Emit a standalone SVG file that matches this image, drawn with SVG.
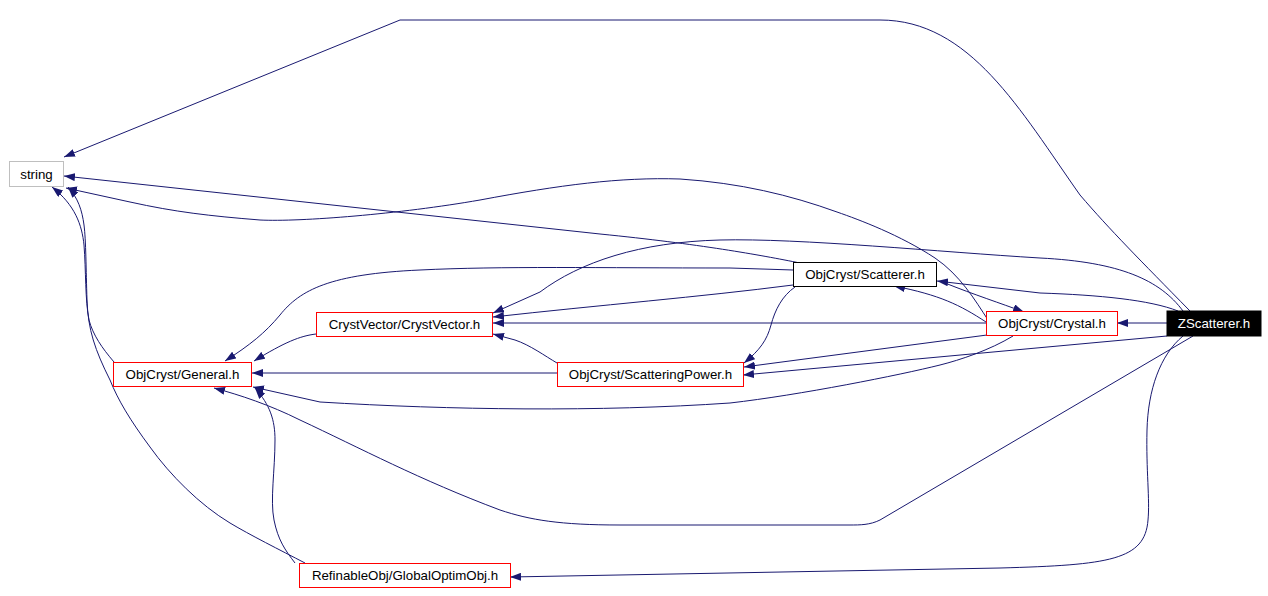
<svg xmlns="http://www.w3.org/2000/svg" width="1268" height="596" viewBox="0 0 1268 596">
<style>
.e{fill:none;stroke:#191970;stroke-width:1;marker-end:url(#a)}
.n rect{fill:#fff;stroke:#ff0000;stroke-width:1}
.n text{font-family:"Liberation Sans",Arial,sans-serif;font-size:13.3px;text-anchor:middle;fill:#000}
</style>
<defs>
<marker id="a" markerWidth="11" markerHeight="8" refX="11" refY="4" orient="auto" markerUnits="userSpaceOnUse">
<path d="M0,0 L11,4 L0,8 z" fill="#191970"/>
</marker>
</defs>
<rect width="1268" height="596" fill="#fff"/>
<g id="edges">
<path class="e" d="M1190,311 C1140,260 1110,230 1080,195 C1020,110 970,20 880,20 L400,20 L64,157"/>
<path class="e" d="M1167,323 L1117,323"/>
<path class="e" d="M1178,311 C1150,300 1100,295 1040,293 L937,281"/>
<path class="e" d="M1183,311 C1160,280 1120,262 1040,258 C940,252 800,238 720,240 C640,242 580,262 540,292 L493,313"/>
<path class="e" d="M1167,336 L743,375"/>
<path class="e" d="M1193,336 L880,520 C870,525 860,525 850,525 L620,525 C560,525 530,520 500,510 C420,480 360,448 300,420 C270,405 240,395 214,388"/>
<path class="e" d="M1183,336 C1160,355 1148,390 1147,430 C1146,470 1150,500 1148,520 C1145,560 1110,565 1000,568 L510,577"/>
<path class="e" d="M988,320 C975,300 960,275 935,258 C900,235 860,220 837,212 C790,195 740,183 680,179 C620,177 560,185 480,200 C400,214 300,222 260,220 C210,216 175,212 130,202 L66,188"/>
<path class="e" d="M800,263 C760,255 700,244 600,234 L64,176"/>
<path class="e" d="M793,270 L730,268 C600,268 500,266 420,270 C330,274 300,290 280,315 C265,333 250,345 225,361"/>
<path class="e" d="M793,285 C700,297 600,305 493,317"/>
<path class="e" d="M795,287 C782,296 775,310 771,325 C767,340 760,350 744,363"/>
<path class="e" d="M945,283 C975,295 1000,303 1024,312"/>
<path class="e" d="M986,322 C960,305 940,295 894,286"/>
<path class="e" d="M986,323 L493,323"/>
<path class="e" d="M987,335 L744,367"/>
<path class="e" d="M1013,336 C990,350 960,360 940,365 C900,375 800,395 730,403 C600,412 450,410 320,402 L253,387"/>
<path class="e" d="M557,373 L252,373"/>
<path class="e" d="M557,363 C545,356 530,345 515,340 L493,334"/>
<path class="e" d="M316,334 C300,336 285,342 254,361"/>
<path class="e" d="M114,362 C102,348 93,335 89,320 C85,300 86,270 84,245 C82,225 75,205 52,187"/>
<path class="e" d="M305,563 C280,550 250,535 230,523 C200,505 170,475 150,447 C130,420 118,400 110,380 C95,350 88,330 87,300 C86,270 86,240 84,225 C82,210 78,198 68,187"/>
<path class="e" d="M295,563 C285,550 278,540 274,520 C270,500 275,470 275,440 C275,420 270,405 255,388"/>
</g>
<g id="string" class="n"><rect x="9.5" y="161.5" width="54" height="25" style="stroke:#bfbfbf"/><text x="36.5" y="178.5">string</text></g>
<g id="general" class="n"><rect x="113.5" y="362.5" width="138" height="24"/><text x="182.5" y="379">ObjCryst/General.h</text></g>
<g id="crystvector" class="n"><rect x="316.5" y="312.5" width="176" height="24"/><text x="404.5" y="329">CrystVector/CrystVector.h</text></g>
<g id="scatteringpower" class="n"><rect x="557.5" y="362.5" width="186" height="24"/><text x="650.5" y="379">ObjCryst/ScatteringPower.h</text></g>
<g id="scatterer" class="n"><rect x="793.5" y="262.5" width="143" height="24" style="stroke:#000"/><text x="865" y="279">ObjCryst/Scatterer.h</text></g>
<g id="crystal" class="n"><rect x="986.5" y="311.5" width="131" height="24"/><text x="1052" y="328">ObjCryst/Crystal.h</text></g>
<g id="zscatterer" class="n"><rect x="1167" y="311" width="94" height="25" style="fill:#000;stroke:#000"/><text x="1214" y="328" style="fill:#fff">ZScatterer.h</text></g>
<g id="globaloptimobj" class="n"><rect x="299.5" y="563.5" width="211" height="24"/><text x="405" y="580">RefinableObj/GlobalOptimObj.h</text></g>
</svg>
